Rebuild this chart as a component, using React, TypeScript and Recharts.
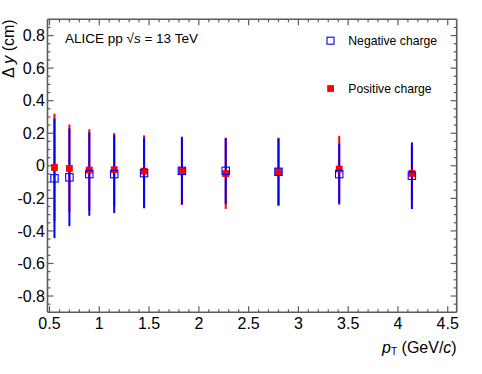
import { ComposedChart, Scatter, ErrorBar, XAxis, YAxis, Legend } from "recharts";

// pT bin centres (GeV/c) and mean Δy (cm) with uncertainties
const ptBins = [0.55, 0.7, 0.9, 1.15, 1.45, 1.83, 2.27, 2.8, 3.41, 4.14];
const negMean = [-0.077, -0.071, -0.051, -0.051, -0.045, -0.031, -0.031, -0.037, -0.051, -0.061];
const negErr = [0.367, 0.3, 0.256, 0.24, 0.216, 0.205, 0.203, 0.205, 0.187, 0.205];
const posMean = [-0.01, -0.016, -0.026, -0.024, -0.033, -0.031, -0.048, -0.037, -0.02, -0.047];
const posErr = [0.33, 0.27, 0.25, 0.225, 0.22, 0.21, 0.217, 0.21, 0.204, 0.17];

const xMajor = [0.5, 1, 1.5, 2, 2.5, 3, 3.5, 4, 4.5];
const yMajor = [-0.8, -0.6, -0.4, -0.2, 0, 0.2, 0.4, 0.6, 0.8];

const legendItems = [
  { label: "Negative charge", color: "#0000ff", open: true },
  { label: "Positive charge", color: "#ff0000", open: false },
];

const X_DOMAIN: [number, number] = [0.48, 4.59];
const Y_DOMAIN: [number, number] = [-0.9, 0.9];
const FONT = "'Liberation Sans', Arial, Helvetica, sans-serif";
const FRAME = "#5c5c5c";

// minor tick positions (0.1 on x, 0.05 on y)
const steps = (a: number, b: number, s: number) => {
  const out: number[] = [];
  for (let v = a; v <= b + 1e-9; v += s) out.push(Math.round(v * 1000) / 1000);
  return out;
};
const xTicks = steps(0.5, 4.5, 0.1);
const yTicks = steps(-0.85, 0.85, 0.05);

const fmt = (v: number) => String(Math.round(v * 100) / 100);

type Side = "bottom" | "top" | "left" | "right";

const tickFor = (side: Side, majors: number[], withLabels: boolean) => (props: any) => {
  const { x, y, payload } = props;
  const v = payload.value;
  const major = majors.some((m) => Math.abs(m - v) < 1e-6);
  const len = major ? 6 : 3;
  let x2 = x;
  let y2 = y;
  if (side === "bottom") y2 = y - len;
  if (side === "top") y2 = y + len;
  if (side === "left") x2 = x + len;
  if (side === "right") x2 = x - len;
  return (
    <g>
      <line x1={x} y1={y} x2={x2} y2={y2} stroke={FRAME} strokeWidth={1.2} />
      {withLabels && major && side === "bottom" && (
        <text x={x} y={y + 16.2} textAnchor="middle" fontSize={16} fill="#000" fontFamily={FONT}>
          {fmt(v)}
        </text>
      )}
      {withLabels && major && side === "left" && (
        <text x={x - 2.5} y={y} dy="0.355em" textAnchor="end" fontSize={16} fill="#000" fontFamily={FONT}>
          {fmt(v)}
        </text>
      )}
    </g>
  );
};

const RedSquare = (props: any) => {
  const { cx, cy } = props;
  return <rect x={cx - 3.4} y={cy - 3.4} width={6.8} height={6.8} fill="#ff0000" />;
};

const BlueOpenSquare = (props: any) => {
  const { cx, cy } = props;
  return <rect x={cx - 3.7} y={cy - 3.7} width={7.4} height={7.4} fill="none" stroke="#0000ff" strokeWidth={1.1} />;
};

const renderLegend = () => (
  <svg width={482} height={110} style={{ display: "block" }}>
    <text x={65} y={43.3} fontSize={13.5} fontFamily={FONT} fill="#000">
      ALICE pp <tspan>√</tspan>
      <tspan fontStyle="italic">s</tspan> = 13 TeV
    </text>
    {legendItems.map((it, i) => {
      const cy = 40.7 + i * 47.8;
      return (
        <g key={it.label}>
          {it.open ? (
            <rect x={327.0} y={cy - 3.5} width={7} height={7} fill="none" stroke={it.color} strokeWidth={1.1} />
          ) : (
            <rect x={327.2} y={cy - 3.4} width={6.8} height={6.8} fill={it.color} />
          )}
          <text x={348.3} y={cy + 4.2} fontSize={12.2} fontFamily={FONT} fill="#000">
            {it.label}
          </text>
        </g>
      );
    })}
  </svg>
);

const YTitle = (props: any) => {
  const vb = props.viewBox || { x: 46.5, y: 19.3 };
  const x = vb.x - 32;
  const y = vb.y;
  return (
    <text x={x} y={y} transform={`rotate(-90, ${x}, ${y})`} textAnchor="end" fontSize={16} fontFamily={FONT} fill="#000">
      Δ <tspan fontStyle="italic">y</tspan> (cm)
    </text>
  );
};

const XTitle = (props: any) => {
  const vb = props.viewBox || { x: 47.5, y: 312.3, width: 409 };
  return (
    <text x={vb.x + vb.width} y={vb.y + 41} textAnchor="end" fontSize={16} fontFamily={FONT} fill="#000">
      <tspan fontStyle="italic">p</tspan>
      <tspan fontSize={10} dy={2}>T</tspan>
      <tspan dy={-2}> (GeV/</tspan>
      <tspan fontStyle="italic">c</tspan>)
    </text>
  );
};

export default function App() {
  const neg = ptBins.map((x, i) => ({ x, y: negMean[i], err: negErr[i] }));
  const pos = ptBins.map((x, i) => ({ x, y: posMean[i], err: posErr[i] }));
  const frameLine = { stroke: FRAME, strokeWidth: 1.6 };

  return (
    <div style={{ position: "absolute", left: 0, top: 0, width: 482, height: 374, background: "#fff", fontFamily: FONT }}>
      <ComposedChart width={482} height={374} margin={{ top: 18.3, right: 24.3, bottom: 60.7, left: 46.5 }}>
        <XAxis
          xAxisId="b"
          type="number"
          dataKey="x"
          orientation="bottom"
          domain={X_DOMAIN}
          allowDataOverflow
          ticks={xTicks}
          interval={0}
          height={1}
          tickSize={0}
          tickMargin={0}
          tickLine={false}
          tick={tickFor("bottom", xMajor, true)}
          axisLine={frameLine}
          label={<XTitle />}
        />
        <XAxis
          xAxisId="t"
          type="number"
          dataKey="x"
          orientation="top"
          domain={X_DOMAIN}
          allowDataOverflow
          ticks={xTicks}
          interval={0}
          height={1}
          tickSize={0}
          tickMargin={0}
          tickLine={false}
          tick={tickFor("top", xMajor, false)}
          axisLine={frameLine}
        />
        <YAxis
          yAxisId="l"
          type="number"
          dataKey="y"
          orientation="left"
          domain={Y_DOMAIN}
          allowDataOverflow
          ticks={yTicks}
          interval={0}
          width={1}
          tickSize={0}
          tickMargin={0}
          tickLine={false}
          tick={tickFor("left", yMajor, true)}
          axisLine={frameLine}
          label={<YTitle />}
        />
        <YAxis
          yAxisId="r"
          type="number"
          dataKey="y"
          orientation="right"
          domain={Y_DOMAIN}
          allowDataOverflow
          ticks={yTicks}
          interval={0}
          width={1}
          tickSize={0}
          tickMargin={0}
          tickLine={false}
          tick={tickFor("right", yMajor, false)}
          axisLine={frameLine}
        />
        <Legend
          content={renderLegend}
          layout="vertical"
          align="center"
          verticalAlign="middle"
          width={482}
          height={110}
          wrapperStyle={{ left: 0, top: 0 }}
        />
        <Scatter
          name="Positive charge"
          data={pos}
          xAxisId="b"
          yAxisId="l"
          shape={<RedSquare />}
          isAnimationActive={false}
        >
          <ErrorBar dataKey="err" direction="y" width={0} stroke="#ff0000" strokeWidth={2} />
        </Scatter>
        <Scatter
          name="Negative charge"
          data={neg}
          xAxisId="b"
          yAxisId="l"
          shape={<BlueOpenSquare />}
          isAnimationActive={false}
        >
          <ErrorBar dataKey="err" direction="y" width={0} stroke="#0000ff" strokeWidth={2} />
        </Scatter>
        {/* invisible series keeping the mirrored top/right axes bound to the same scale */}
        <Scatter data={neg} xAxisId="t" yAxisId="r" shape={() => null} isAnimationActive={false} legendType="none" />
      </ComposedChart>
    </div>
  );
}
